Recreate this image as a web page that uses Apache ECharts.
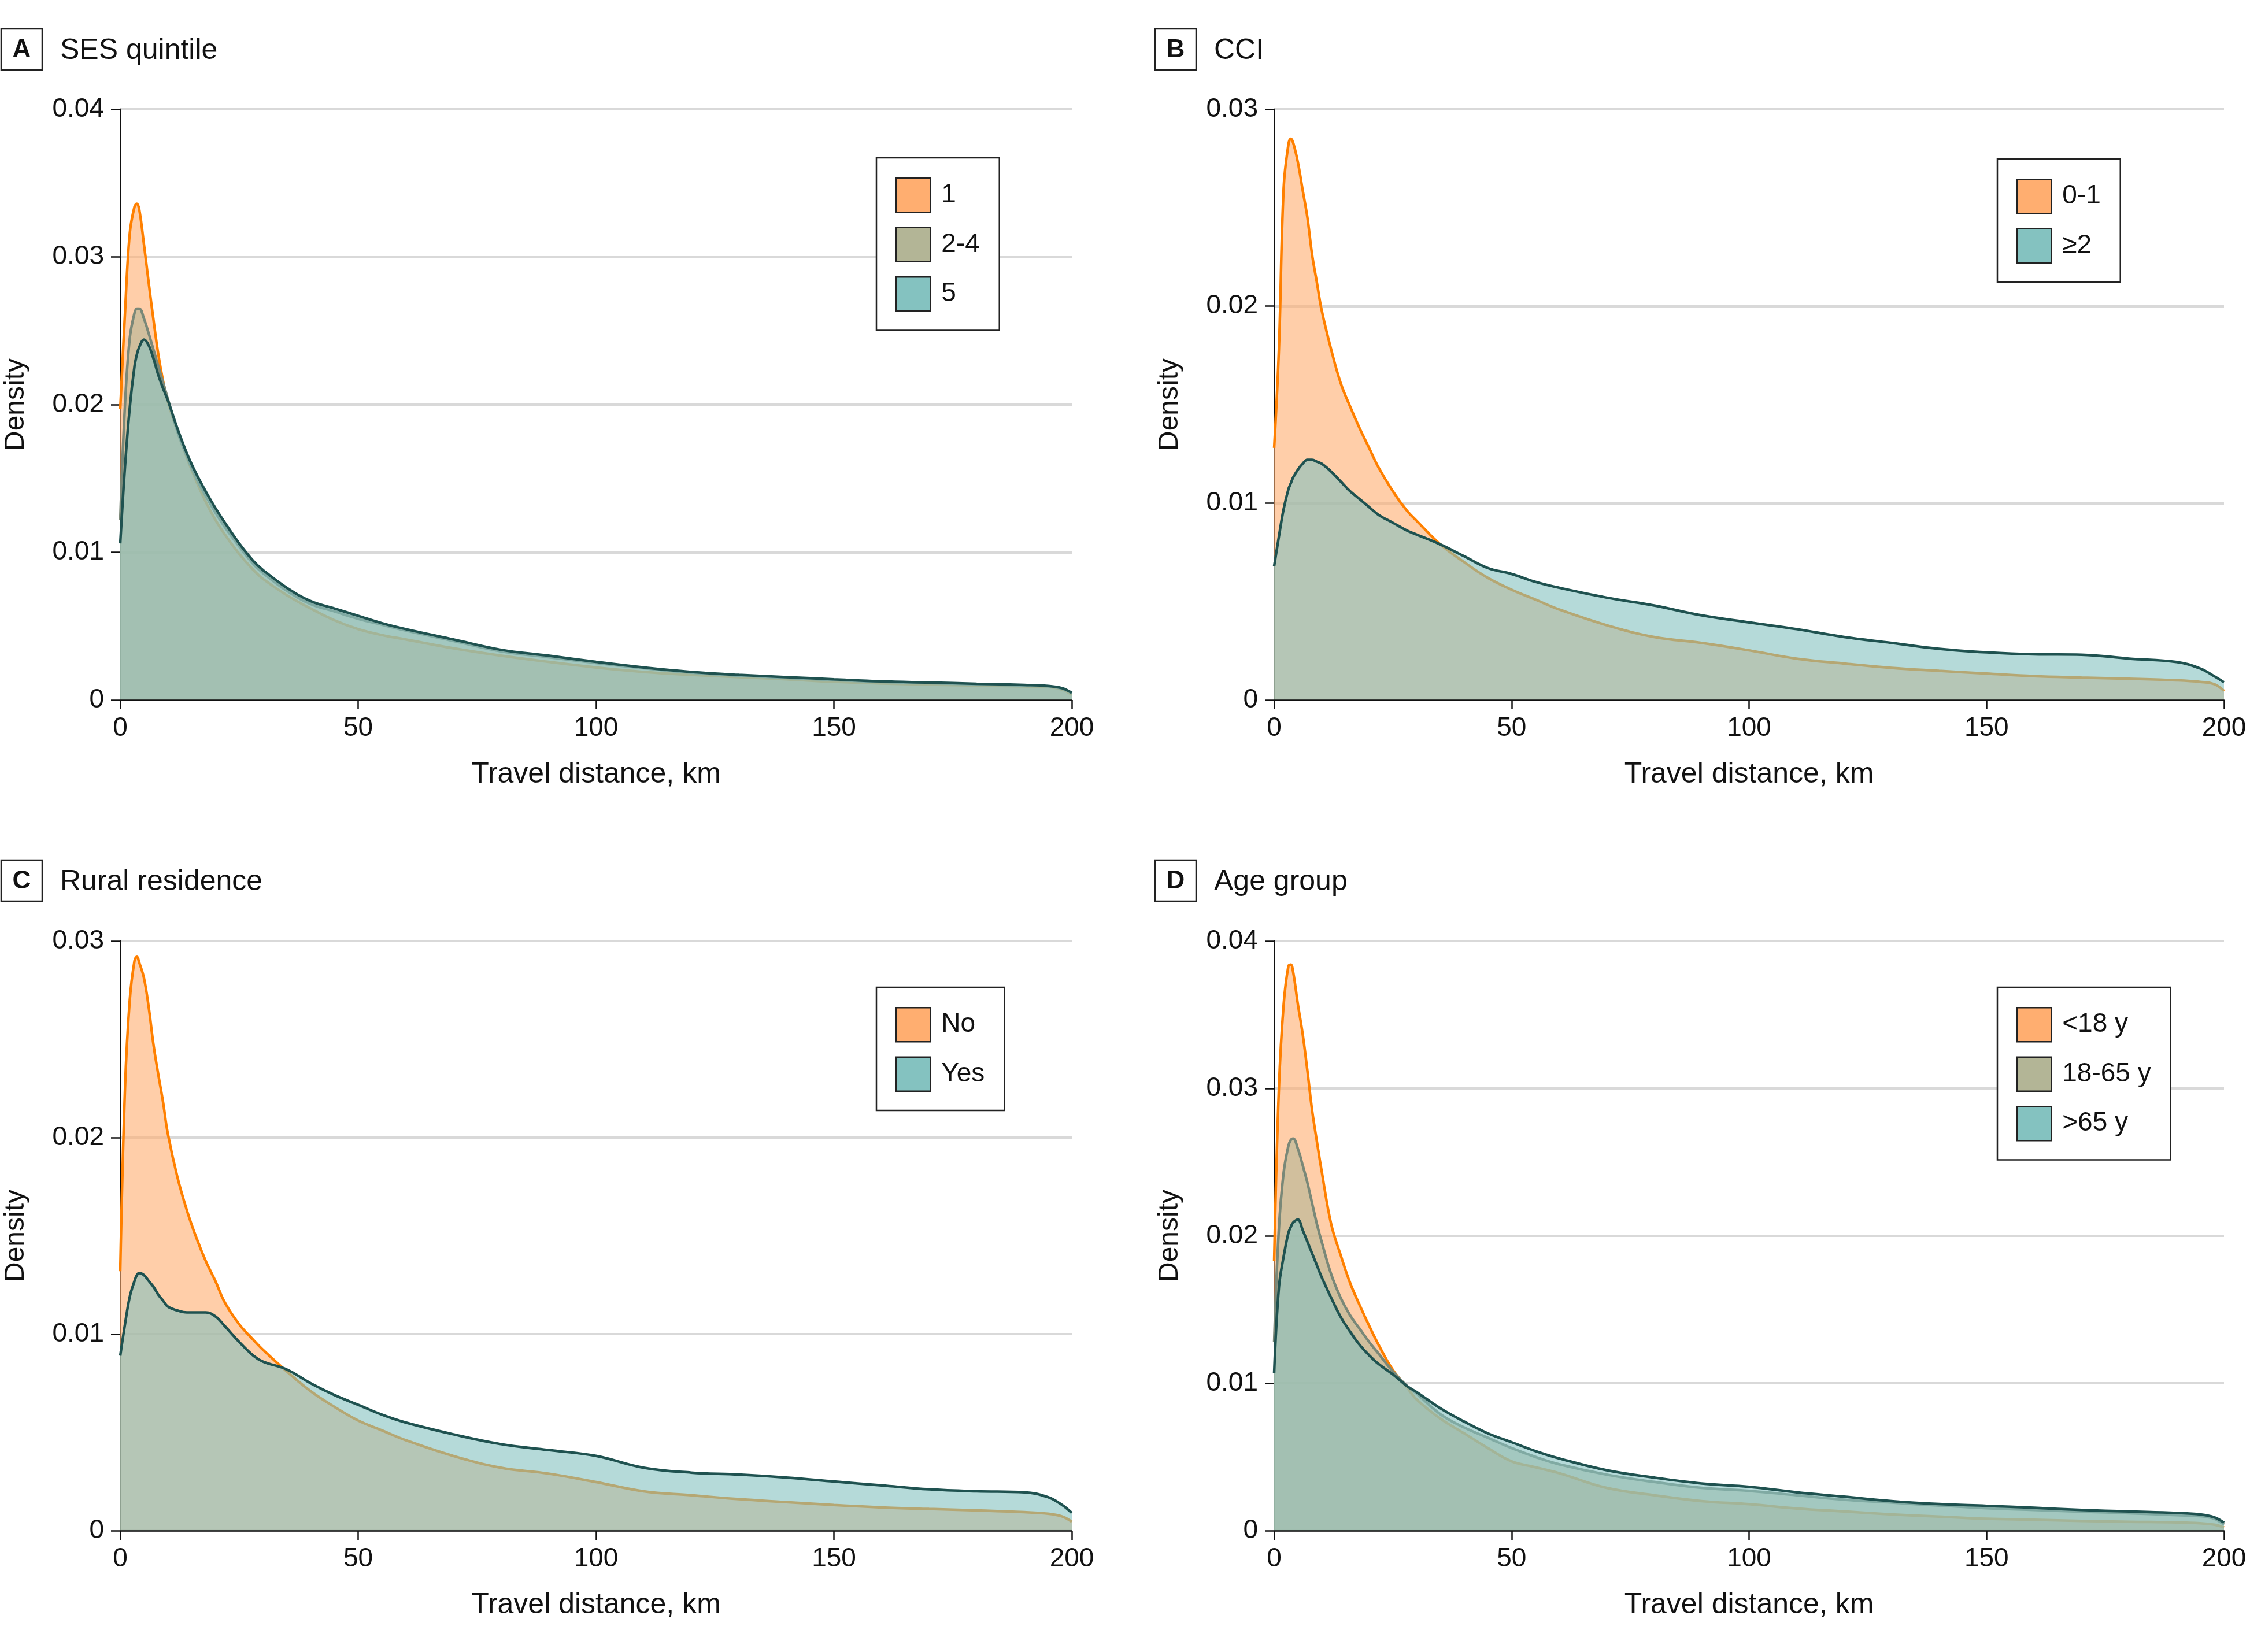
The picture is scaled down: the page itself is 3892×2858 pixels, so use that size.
<!DOCTYPE html>
<html><head><meta charset="utf-8">
<script src="https://cdn.jsdelivr.net/npm/echarts@6/dist/echarts.min.js"></script>
<style>html,body{margin:0;padding:0;background:#fff}#c{width:3892px;height:2858px}</style>
</head><body><div id="c"></div>
<script>
// Travel distance (km) sample points shared by all density curves
const kmGrid = [0,1,2,3,3.5,4,5,6,7,8,9,10,12,14,16,18,20,22,25,28,30,35,40,45,50,55,60,70,80,90,100,110,120,130,140,150,160,170,180,190,195,198,200];

// Panel A: SES quintile
const sesQ1    = [0.0197,0.0262,0.0316,0.0334,0.0336,0.0332,0.0308,0.0282,0.0257,0.0234,0.0216,0.0202,0.0182,0.0164,0.0148,0.0134,0.0122,0.0112,0.0099,0.0088,0.0082,0.0071,0.0062,0.0054,0.0048,0.0044,0.0041,0.0035,0.0030,0.00258,0.0022,0.0019,0.0017,0.00155,0.0014,0.00123,0.00112,0.00104,0.00098,0.00092,0.00088,0.0007,0.00035];
const sesQ2to4 = [0.0122,0.0200,0.0245,0.0262,0.0265,0.0265,0.0258,0.0248,0.0237,0.0226,0.0215,0.0204,0.0182,0.0165,0.0150,0.0138,0.0127,0.0117,0.0104,0.0092,0.0086,0.0074,0.0065,0.0060,0.0055,0.0051,0.0047,0.0040,0.0033,0.0029,0.0025,0.00215,0.00185,0.00165,0.0015,0.00135,0.00122,0.00114,0.00106,0.00098,0.00092,0.00076,0.00045];
const sesQ5    = [0.0106,0.0158,0.0198,0.0226,0.0234,0.0239,0.0244,0.0240,0.0231,0.0220,0.0211,0.0203,0.0184,0.0167,0.0153,0.0141,0.0130,0.0120,0.0106,0.0094,0.0088,0.0076,0.0067,0.0062,0.0057,0.0052,0.0048,0.0041,0.0034,0.0030,0.00258,0.0022,0.0019,0.0017,0.00155,0.0014,0.00126,0.00118,0.0011,0.00102,0.00095,0.0008,0.00048];

// Panel B: CCI
const cci0to1  = [0.0128,0.0178,0.0260,0.0282,0.0285,0.0283,0.0273,0.0259,0.0245,0.0226,0.0212,0.0198,0.0178,0.0161,0.0149,0.0138,0.0128,0.0118,0.0106,0.0096,0.0091,0.0079,0.0070,0.0062,0.0056,0.0051,0.0046,0.0038,0.0032,0.0029,0.00252,0.0021,0.00185,0.00163,0.00148,0.00134,0.00121,0.00114,0.00108,0.0010,0.00092,0.0008,0.00046];
const cci2plus = [0.0068,0.0083,0.0097,0.0107,0.0110,0.0113,0.0117,0.0120,0.0122,0.0122,0.0121,0.0120,0.0116,0.0111,0.0106,0.0102,0.0098,0.0094,0.0090,0.0086,0.0084,0.0079,0.0073,0.0067,0.0064,0.0060,0.0057,0.0052,0.0048,0.0043,0.00394,0.0036,0.0032,0.0029,0.0026,0.00242,0.00232,0.0023,0.0021,0.00193,0.0016,0.0012,0.0009];

// Panel C: Rural residence
const ruralNo  = [0.0132,0.0225,0.0270,0.0290,0.0292,0.0289,0.0281,0.0266,0.0247,0.0232,0.0218,0.0202,0.0180,0.0163,0.0149,0.0137,0.0127,0.0116,0.0105,0.0097,0.0092,0.0081,0.0071,0.0063,0.0056,0.0051,0.0046,0.0038,0.0032,0.0029,0.00247,0.0020,0.0018,0.0016,0.00145,0.0013,0.00118,0.0011,0.00103,0.00094,0.00086,0.00072,0.00045];
const ruralYes = [0.0089,0.0105,0.0119,0.0127,0.0130,0.0131,0.0130,0.0127,0.0124,0.0120,0.0117,0.0114,0.0112,0.0111,0.0111,0.0111,0.0109,0.0104,0.0096,0.0089,0.0086,0.0082,0.0075,0.0069,0.0064,0.0059,0.0055,0.0049,0.0044,0.0041,0.0038,0.0032,0.00295,0.00285,0.0027,0.0025,0.0023,0.0021,0.0020,0.00195,0.0017,0.0013,0.0009];

// Panel D: Age group
const ageUnder18 = [0.0183,0.0300,0.0357,0.0383,0.0384,0.0379,0.0357,0.0337,0.0312,0.0285,0.0264,0.0244,0.0208,0.0187,0.0168,0.0153,0.0139,0.0126,0.0109,0.0097,0.0089,0.0076,0.0066,0.0056,0.0047,0.0043,0.0039,0.0029,0.0024,0.0020,0.00179,0.0015,0.0013,0.0011,0.00095,0.0008,0.00074,0.00066,0.0006,0.00056,0.0005,0.0004,0.00021];
const age18to65  = [0.0128,0.0205,0.0243,0.0261,0.0265,0.0266,0.0259,0.0248,0.0236,0.0222,0.0208,0.0196,0.0174,0.0158,0.0146,0.0137,0.0128,0.0120,0.0108,0.0098,0.0093,0.0079,0.0070,0.0063,0.0056,0.0050,0.0045,0.0038,0.0033,0.0029,0.0027,0.0024,0.0021,0.0019,0.0017,0.00152,0.0014,0.00128,0.00118,0.00105,0.00098,0.0008,0.0004];
const ageOver65  = [0.0107,0.0165,0.0186,0.0202,0.0206,0.0209,0.0211,0.0204,0.0196,0.0188,0.0180,0.0172,0.0158,0.0145,0.0135,0.0126,0.0119,0.0113,0.0106,0.0098,0.0094,0.0083,0.0074,0.0066,0.0060,0.0054,0.0049,0.0041,0.0036,0.0032,0.00297,0.0026,0.0023,0.0020,0.0018,0.00168,0.00155,0.0014,0.0013,0.0012,0.0011,0.0009,0.00054];

const xTicks = [0,50,100,150,200];

const FONT = 'Liberation Sans';
const INK = '#111';
const styles = [
  {line:'#FF8000', fill:'#FFAE70'},
  {line:'#7A8878', fill:'#B3B596'},
  {line:'#1F5250', fill:'#84C2C0'}
];

const panels = [
  {letter:'A', title:'SES quintile', yMax:0.04, grid:{left:208,top:189,width:1646,height:1022}, box:[2,50], legend:[1516,273],
   series:[['1',sesQ1,0],['2-4',sesQ2to4,1],['5',sesQ5,2]]},
  {letter:'B', title:'CCI', yMax:0.03, grid:{left:2204,top:189,width:1643,height:1022}, box:[1998,50], legend:[3455,275],
   series:[['0-1',cci0to1,0],['≥2',cci2plus,2]]},
  {letter:'C', title:'Rural residence', yMax:0.03, grid:{left:208,top:1628,width:1646,height:1020}, box:[2,1488], legend:[1516,1708],
   series:[['No',ruralNo,0],['Yes',ruralYes,2]]},
  {letter:'D', title:'Age group', yMax:0.04, grid:{left:2204,top:1628,width:1643,height:1020}, box:[1998,1488], legend:[3455,1708],
   series:[['<18 y',ageUnder18,0],['18-65 y',age18to65,1],['>65 y',ageOver65,2]]}
];

const option = {
  backgroundColor:'#fff',
  animation:false,
  grid:[], xAxis:[], yAxis:[], series:[], legend:[], graphic:[]
};

panels.forEach((p,i)=>{
  option.grid.push(Object.assign({containLabel:false}, p.grid));
  option.xAxis.push({
    type:'value', gridIndex:i, min:xTicks[0], max:xTicks[xTicks.length-1], interval:50,
    axisLine:{show:true, onZero:false, lineStyle:{color:INK, width:2.5}},
    axisTick:{show:true, length:16, lineStyle:{color:INK, width:2.5}},
    axisLabel:{fontSize:46, margin:26, color:INK, fontFamily:FONT},
    splitLine:{show:false},
    name:'Travel distance, km', nameLocation:'middle', nameGap:104,
    nameTextStyle:{fontSize:50, color:INK, fontFamily:FONT},
    z:20
  });
  option.yAxis.push({
    type:'value', gridIndex:i, min:0, max:p.yMax, interval:0.01,
    axisLine:{show:true, lineStyle:{color:INK, width:2.5}},
    axisTick:{show:true, length:16, lineStyle:{color:INK, width:2.5}},
    axisLabel:{fontSize:46, margin:28, color:INK, fontFamily:FONT,
      formatter: v => v === 0 ? '0' : v.toFixed(2)},
    splitLine:{show:true, lineStyle:{color:'#D9D9D9', width:4}},
    name:'Density', nameLocation:'middle', nameGap:156, nameRotate:90,
    nameTextStyle:{fontSize:48, color:INK, fontFamily:FONT},
    z:0
  });
  const legendData = [];
  p.series.forEach(([name, arr, s], k)=>{
    const st = styles[s];
    option.series.push({
      type:'line', name, xAxisIndex:i, yAxisIndex:i,
      data: kmGrid.map((kk,j)=>[kk, arr[j]]),
      showSymbol:false, symbol:'none',
      smooth:0.4,
      z: 2 + k,
      lineStyle:{color:st.line, width:4.5},
      itemStyle:{color:st.line},
      areaStyle:{color:st.fill, opacity:0.6},
      silent:true
    });
    legendData.push({name, itemStyle:{color:st.fill, borderColor:'#222', borderWidth:2.5}});
  });
  option.legend.push({
    data:legendData, orient:'vertical', left:p.legend[0], top:p.legend[1],
    icon:'rect', itemWidth:59, itemHeight:59, itemGap:24,
    padding:[34,34,32,33], borderColor:'#222', borderWidth:2.5, backgroundColor:'#fff',
    selectedMode:false, z:30,
    textStyle:{fontSize:46, color:INK, fontFamily:FONT, padding:[0,0,0,14]}
  });
  option.graphic.push(
    {type:'rect', shape:{x:p.box[0], y:p.box[1], width:71, height:71},
     style:{fill:'#fff', stroke:'#222', lineWidth:2.5}},
    {type:'text', x:p.box[0]+35.5, y:p.box[1]+37,
     style:{text:p.letter, font:'bold 44px "Liberation Sans"', fill:INK,
            textAlign:'center', textVerticalAlign:'middle', align:'center', verticalAlign:'middle'}},
    {type:'text', x:p.box[0]+102, y:p.box[1]+38,
     style:{text:p.title, font:'50px "Liberation Sans"', fill:INK,
            textAlign:'left', textVerticalAlign:'middle', align:'left', verticalAlign:'middle'}}
  );
});

const chart = echarts.init(document.getElementById('c'), null, {renderer:'canvas'});
chart.setOption(option);
</script>
</body></html>
